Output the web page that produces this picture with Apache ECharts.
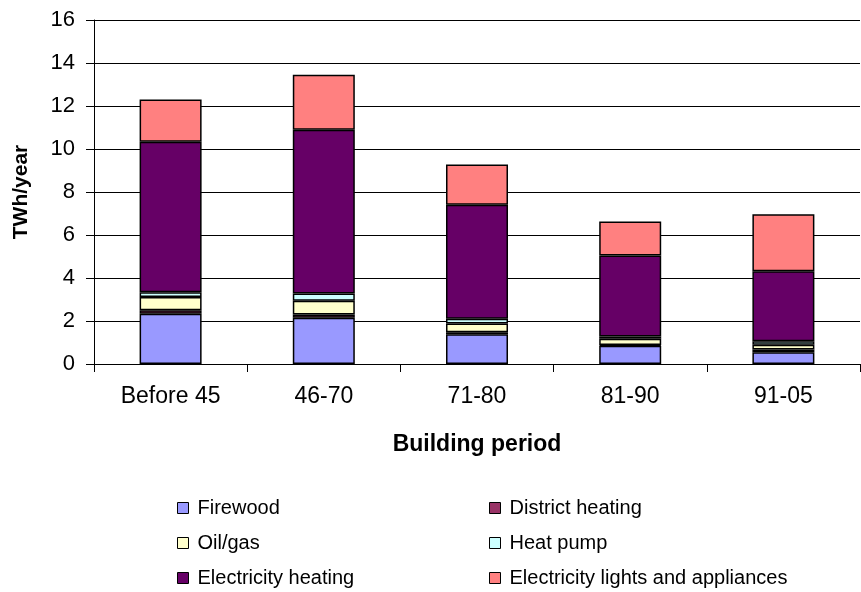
<!DOCTYPE html>
<html>
<head>
<meta charset="utf-8">
<script src="https://cdn.jsdelivr.net/npm/echarts@6/dist/echarts.min.js"></script>
<style>
  html, body { margin: 0; padding: 0; background: #fff; }
  #chart { width: 861px; height: 592px; }
</style>
</head>
<body>
<div id="chart"></div>
<script>
// Energy use per building period, TWh/year
const periods = ['Before 45', '46-70', '71-80', '81-90', '91-05'];
const firewood = [2.34, 2.15, 1.38, 0.85, 0.55];
const districtHeating = [0.16, 0.15, 0.10, 0.03, 0.12];
const oilGas = [0.62, 0.64, 0.40, 0.30, 0.22];
const heatPump = [0.22, 0.34, 0.23, 0.10, 0.17];
const electricityHeating = [7.00, 7.62, 5.30, 3.77, 3.25];
const electricityLights = [1.96, 2.55, 1.87, 1.58, 2.65];
const yTicks = { min: 0, max: 16, interval: 2 };

const seriesDefs = [
  ['Firewood', firewood, '#9999FF'],
  ['District heating', districtHeating, '#993366'],
  ['Oil/gas', oilGas, '#FFFFCC'],
  ['Heat pump', heatPump, '#CCFFFF'],
  ['Electricity heating', electricityHeating, '#660066'],
  ['Electricity lights and appliances', electricityLights, '#FF8080']
];

// Two-column legend: [name, column x, row centre y]
const legendSlots = [
  ['Firewood', 177, 508],
  ['District heating', 489, 508],
  ['Oil/gas', 177, 543],
  ['Heat pump', 489, 543],
  ['Electricity heating', 177, 578],
  ['Electricity lights and appliances', 489, 578]
];

const font = 'Liberation Sans, Arial, sans-serif';
const chart = echarts.init(document.getElementById('chart'), null, { renderer: 'canvas' });

chart.setOption({
  backgroundColor: '#fff',
  animation: false,
  grid: { left: 94, right: 1, top: 20, bottom: 228 },
  legend: legendSlots.map(([name, x, y]) => ({
    data: [name],
    left: x,
    top: y - 10,
    padding: 0,
    itemWidth: 11,
    itemHeight: 11,
    icon: 'rect',
    itemStyle: { borderColor: '#000', borderWidth: 1 },
    textStyle: { fontFamily: font, fontSize: 20, color: '#000', lineHeight: 20, padding: [0, 0, 0, 4] },
    selectedMode: false
  })),
  xAxis: {
    type: 'category',
    data: periods,
    name: 'Building period',
    nameLocation: 'middle',
    nameGap: 69,
    nameTextStyle: { fontFamily: font, fontSize: 23, fontWeight: 'bold', color: '#000' },
    axisLine: { lineStyle: { color: '#000', width: 1 } },
    axisTick: { show: true, length: 8, lineStyle: { color: '#000' } },
    axisLabel: { fontFamily: font, fontSize: 23, color: '#000', margin: 21 }
  },
  yAxis: {
    type: 'value',
    min: yTicks.min,
    max: yTicks.max,
    interval: yTicks.interval,
    name: 'TWh/year',
    nameLocation: 'middle',
    nameRotate: 90,
    nameGap: 62,
    nameTextStyle: { fontFamily: font, fontSize: 21, fontWeight: 'bold', color: '#000' },
    axisLine: { show: true, lineStyle: { color: '#000', width: 1 } },
    axisTick: { show: true, length: 8, lineStyle: { color: '#000' } },
    axisLabel: { fontFamily: font, fontSize: 22, color: '#000', margin: 19 },
    splitLine: { show: true, lineStyle: { color: '#000', width: 1 } }
  },
  series: seriesDefs.map(([name, values, color]) => ({
    name: name,
    type: 'bar',
    stack: 'total',
    data: values,
    barWidth: 62,
    itemStyle: { color: color, borderColor: '#000', borderWidth: 1.5 }
  }))
});
</script>
</body>
</html>
